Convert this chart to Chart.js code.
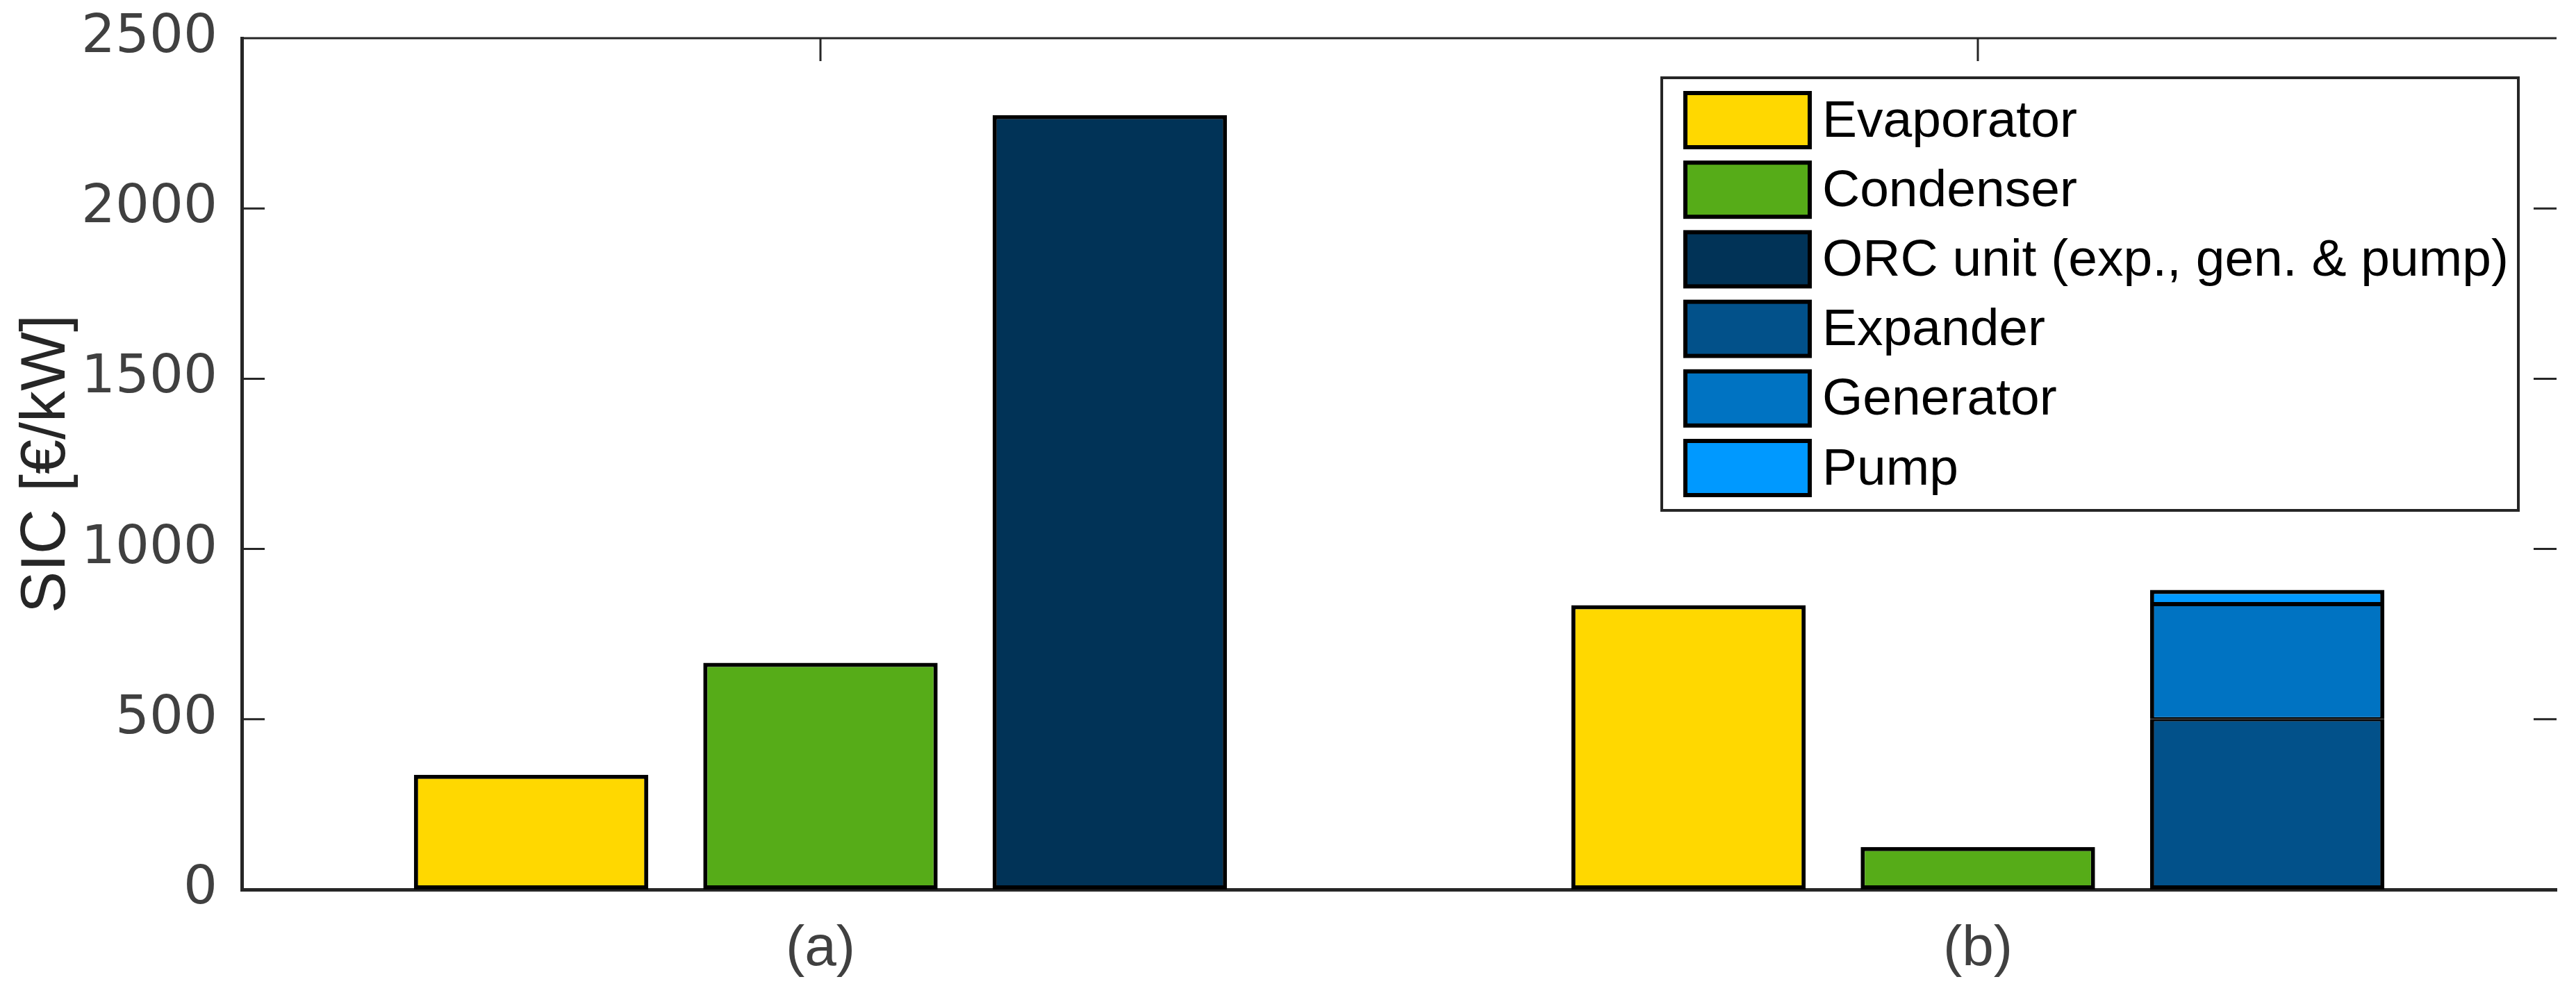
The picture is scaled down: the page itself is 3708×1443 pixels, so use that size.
<!DOCTYPE html>
<html><head><meta charset="utf-8">
<script src="https://cdn.jsdelivr.net/npm/chart.js@4/dist/chart.umd.min.js"></script>
<style>html,body{margin:0;padding:0;background:#fff;} #wrap{width:3708px;height:1443px;}</style>
</head><body><div id="wrap"><canvas id="c" width="3708" height="1443"></canvas></div>
<script>
const categories = ['(a)', '(b)'];
const evaporator = [337, 835];
const condenser = [666, 125];
const orcUnit = [2274, null];
const expander = [null, 500];
const generator = [null, 338];
const pump = [null, 42];
const yMin = 0, yMax = 2500, yStep = 500;
const yTitle = 'SIC [€/kW]';
const seriesNames = ['Evaporator', 'Condenser', 'ORC unit (exp., gen. & pump)', 'Expander', 'Generator', 'Pump'];
const seriesColors = ['#FFD800', '#56AC18', '#013357', '#02518A', '#0073C2', '#0099FF'];

const FONT = "'Liberation Sans', Arial, Helvetica, sans-serif";
const TICKFONT = "'DejaVu Sans', 'Liberation Sans', sans-serif";
const AX = '#262626';

const frame = {
  id: 'frame',
  beforeDatasetsDraw(chart) {
    const {ctx, chartArea: a, scales} = chart;
    ctx.save();
    ctx.strokeStyle = AX;
    ctx.lineWidth = 3;
    ctx.beginPath();
    ctx.moveTo(a.left, a.top); ctx.lineTo(a.right, a.top);
    const tl = 33;
    scales.y.ticks.forEach(t => {
      const y = scales.y.getPixelForValue(t.value);
      ctx.moveTo(a.left, y); ctx.lineTo(a.left + tl, y);
      ctx.moveTo(a.right, y); ctx.lineTo(a.right - tl, y);
    });
    categories.forEach((c, i) => {
      const x = scales.x.getPixelForValue(i);
      ctx.moveTo(x, a.top); ctx.lineTo(x, a.top + tl);
      ctx.moveTo(x, a.bottom); ctx.lineTo(x, a.bottom - tl);
    });
    ctx.stroke();
    ctx.restore();
  }
};

const legendBox = {
  id: 'legendBox',
  afterDraw(chart) {
    const {ctx} = chart;
    const bx = 2392, by = 112, bw = 1233, bh = 623;
    ctx.save();
    ctx.fillStyle = '#fff';
    ctx.fillRect(bx, by, bw, bh);
    ctx.strokeStyle = AX; ctx.lineWidth = 4;
    ctx.strokeRect(bx, by, bw, bh);
    ctx.font = '75px ' + FONT;
    ctx.textBaseline = 'middle';
    ctx.textAlign = 'left';
    chart.data.datasets.forEach((ds, i) => {
      const cy = 173 + i * 100.2;
      ctx.fillStyle = ds.backgroundColor;
      ctx.fillRect(2426, cy - 39, 179, 78);
      ctx.strokeStyle = '#000'; ctx.lineWidth = 6;
      ctx.strokeRect(2426, cy - 39, 179, 78);
      ctx.fillStyle = '#000';
      ctx.fillText(ds.label, 2623, cy + 3);
    });
    ctx.restore();
  }
};

const full = 6;
const datasets = [
  {label: seriesNames[0], data: evaporator, stack: 's1', backgroundColor: seriesColors[0], borderWidth: full},
  {label: seriesNames[1], data: condenser, stack: 's2', backgroundColor: seriesColors[1], borderWidth: full},
  {label: seriesNames[2], data: orcUnit, stack: 's3', backgroundColor: seriesColors[2], borderWidth: full},
  {label: seriesNames[3], data: expander, stack: 's3', backgroundColor: seriesColors[3], borderWidth: {top: 3, left: 6, right: 6, bottom: 6}},
  {label: seriesNames[4], data: generator, stack: 's3', backgroundColor: seriesColors[4], borderWidth: {top: 3, left: 6, right: 6, bottom: 3}},
  {label: seriesNames[5], data: pump, stack: 's3', backgroundColor: seriesColors[5], borderWidth: {top: 6, left: 6, right: 6, bottom: 3}}
].map(d => Object.assign(d, {borderColor: '#000', borderSkipped: false, categoryPercentage: 0.75, barPercentage: 0.81}));

new Chart(document.getElementById('c'), {
  type: 'bar',
  data: {labels: categories, datasets},
  options: {
    responsive: false,
    devicePixelRatio: 1,
    animation: false,
    layout: {padding: {top: 55, right: 28, left: 0, bottom: 0}},
    plugins: {legend: {display: false}, tooltip: {enabled: false}},
    scales: {
      x: {
        stacked: true,
        grid: {display: false, drawTicks: false},
        border: {display: true, color: AX, width: 5},
        ticks: {color: '#404040', font: {family: FONT, size: 82}, padding: 37},
        afterFit(s) { s.height = 162; s.paddingLeft = 0; s.paddingRight = 0; }
      },
      y: {
        stacked: true,
        min: yMin, max: yMax,
        grid: {display: false, drawTicks: false},
        border: {display: true, color: AX, width: 5},
        ticks: {stepSize: yStep, color: '#404040', font: {family: TICKFONT, size: 77}, padding: 35,
                callback: v => String(v)},
        title: {display: true, text: yTitle, color: AX, font: {family: FONT, size: 90, lineHeight: 1.2}, padding: {top: 14, bottom: 0}},
        afterFit(s) { s.width = 348; s.paddingTop = 0; s.paddingBottom = 0; }
      }
    }
  },
  plugins: [frame, legendBox]
});
</script></body></html>
